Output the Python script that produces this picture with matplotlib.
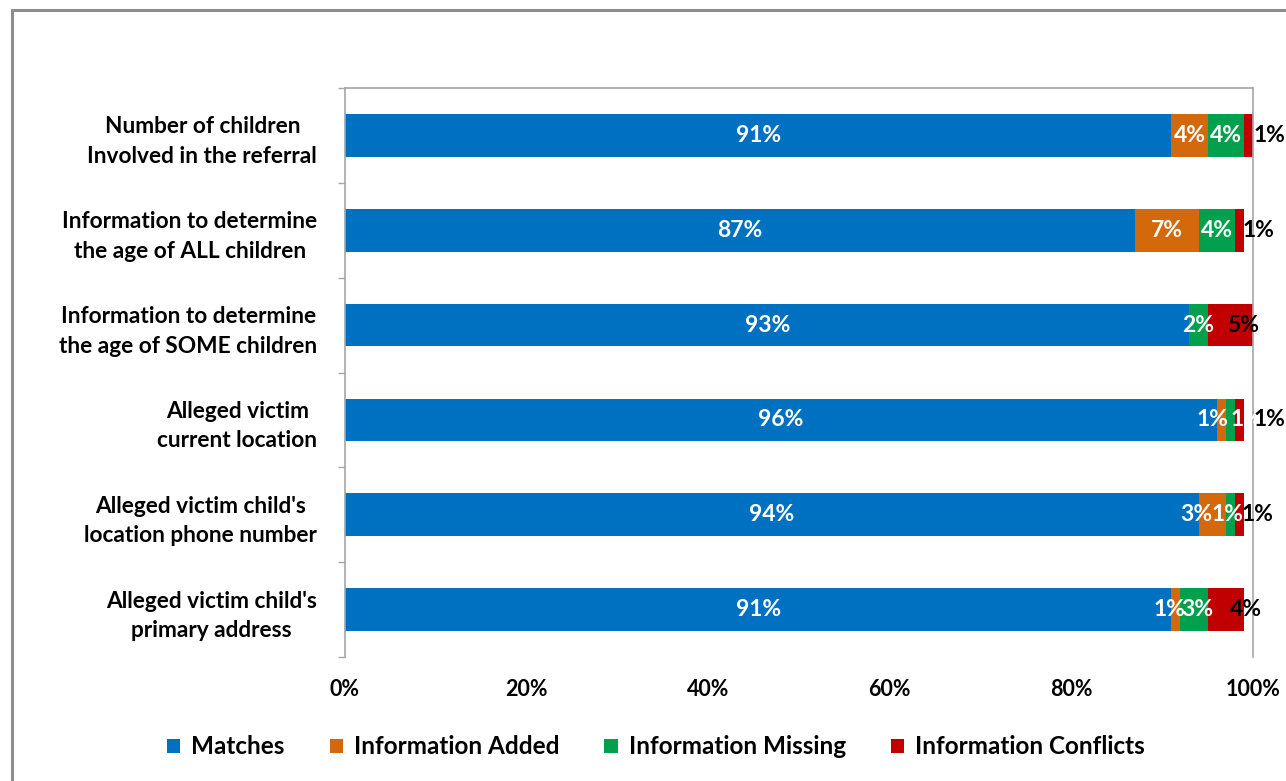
import matplotlib
matplotlib.use("Agg")
import matplotlib.pyplot as plt
from matplotlib.patches import Rectangle
import numpy as np

plt.rcParams['font.family'] = ['Lato', 'DejaVu Sans']
plt.rcParams['font.weight'] = 'bold'

categories = [
    "Number of children\nInvolved in the referral",
    "Information to determine\nthe age of ALL children",
    "Information to determine\nthe age of SOME children",
    "Alleged victim\ncurrent location",
    "Alleged victim child's\nlocation phone number",
    "Alleged victim child's\nprimary address",
]
series_names = ["Matches", "Information Added", "Information Missing", "Information Conflicts"]
matches   = [91, 87, 93, 96, 94, 91]
added     = [4, 7, 0, 1, 3, 1]
missing   = [4, 4, 2, 1, 1, 3]
conflicts = [1, 1, 5, 1, 1, 4]

colors = ["#0070C0", "#D4690C", "#00A04C", "#C00000"]
label_colors = ["white", "white", "white", "black"]
# manual label nudges in pixels (series index, row index) -> dx
label_dx = {(3, 0): 21.5, (3, 1): 19, (3, 2): 12.5, (3, 3): 30.5, (3, 4): 18, (3, 5): 20,
            (1, 3): -9, (2, 3): 16, (1, 4): -16, (2, 4): -3, (1, 5): -6, (2, 5): 3}

W, H = 1286, 781
fig = plt.figure(figsize=(W / 100, H / 100), dpi=100)
fig.patch.set_facecolor("white")
# outer chart frame
fig.add_artist(Rectangle((12 / W, -0.1), 1.2, 1 - 10 / H + 0.1, transform=fig.transFigure,
                         fill=False, edgecolor="#8C8C8C", linewidth=2.2))

left, right, top, bottom = 345, 1253, 88, 657
ax = fig.add_axes([left / W, 1 - bottom / H, (right - left) / W, (bottom - top) / H])

data = [matches, added, missing, conflicts]
y = np.arange(len(categories))
cum = np.zeros(len(categories))
bh = 0.45
for si, (vals, c) in enumerate(zip(data, colors)):
    vals = np.array(vals, dtype=float)
    ax.barh(y, vals, left=cum, height=bh, color=c, label=series_names[si], zorder=2)
    for ri, v in enumerate(vals):
        if v <= 0:
            continue
        xc = cum[ri] + v / 2
        dx = label_dx.get((si, ri), 0) * 0.72
        ax.annotate(f"{int(v)}%", (xc, y[ri]), xytext=(dx, 0), textcoords="offset points",
                    ha="center", va="center", color=label_colors[si],
                    fontsize=16.5, fontweight="bold", zorder=5, annotation_clip=False)
    cum += vals

ax.set_xlim(0, 100)
ax.set_ylim(len(categories) - 0.5, -0.5)
ax.set_xticks([0, 20, 40, 60, 80, 100])
ax.set_xticklabels([f"{v}%" for v in [0, 20, 40, 60, 80, 100]], fontsize=15.5, fontweight="bold")
ax.tick_params(axis="x", length=0, pad=16)

ax.set_yticks(y)
ax.set_yticklabels(categories, fontsize=16.3, fontweight="bold", linespacing=1.5,
                   multialignment="center")
ax.tick_params(axis="y", which="major", length=0, pad=20)
ax.set_yticks(np.arange(-0.5, len(categories), 1.0), minor=True)
ax.tick_params(axis="y", which="minor", length=5, width=1, color="#A6A6A6", direction="out")

for s in ["left", "top", "right"]:
    ax.spines[s].set_color("#A6A6A6")
    ax.spines[s].set_linewidth(1.2)
ax.spines["bottom"].set_visible(False)

handles, labels = ax.get_legend_handles_labels()
leg = fig.legend(handles, labels, loc="center", bbox_to_anchor=(656 / W, 1 - 747 / H),
                 ncol=4, frameon=False, handlelength=0.55, handleheight=0.55,
                 handletextpad=0.45, columnspacing=1.85, prop={"weight": "bold", "size": 17.5})

fig.savefig("out.png", dpi=100, facecolor="white")
